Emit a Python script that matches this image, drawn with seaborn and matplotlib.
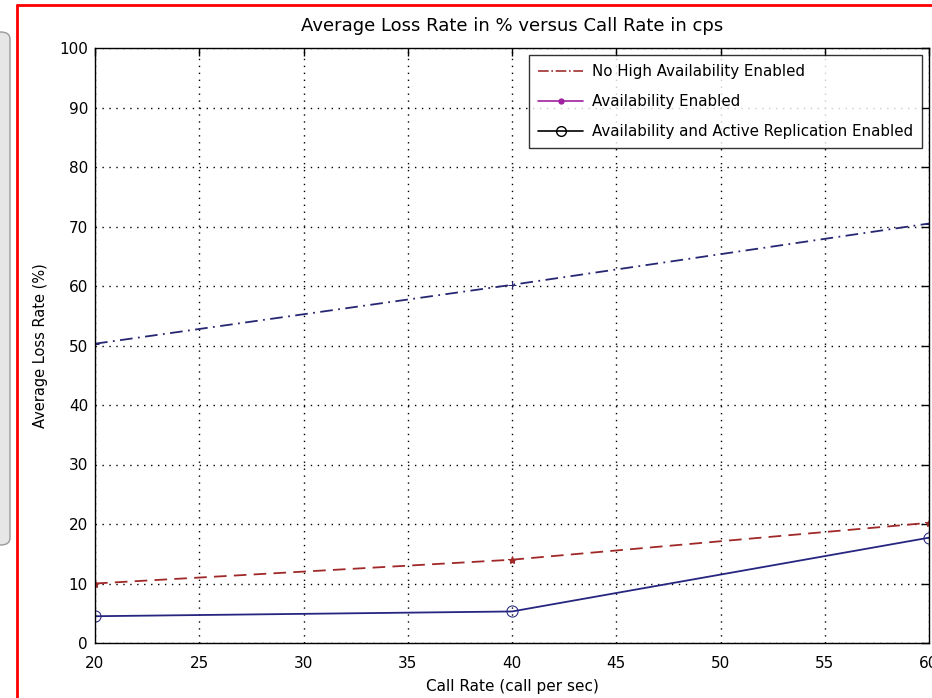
import numpy as np
import pandas as pd
import matplotlib
matplotlib.use("Agg")
import matplotlib.pyplot as plt
import seaborn as sns
from matplotlib.lines import Line2D
from matplotlib.patches import FancyBboxPatch

# ---- dati ----
call_rate = [20, 40, 60]
no_ha = [50.3, 60.2, 70.5]          # linea blu tratto-punto
ha_enabled = [10.0, 14.0, 20.2]     # linea rossa tratteggiata
ha_replication = [4.5, 5.3, 17.7]   # linea blu continua con cerchi

legend_labels = ["No High Availability Enabled",
                 "Availability Enabled",
                 "Availability and Active Replication Enabled"]

x_ticks = [20, 25, 30, 35, 40, 45, 50, 55, 60]
y_ticks = [0, 10, 20, 30, 40, 50, 60, 70, 80, 90, 100]

sns.set_style("white")
plt.rcParams['font.family'] = ['DejaVu Sans']
plt.rcParams['text.color'] = 'black'
plt.rcParams['axes.labelcolor'] = 'black'

fig = plt.figure(figsize=(9.32, 6.98), dpi=100)
ax = fig.add_axes([95/932, 55/698, 834/932, 595/698])

df = pd.DataFrame({"x": call_rate, "no_ha": no_ha, "ha": ha_enabled, "rep": ha_replication})

sns.lineplot(data=df, x="x", y="no_ha", ax=ax, color="#262673", linestyle=(0, (7, 3, 1, 3)),
             marker="+", markersize=6, markeredgecolor="#262673", linewidth=1.3)
sns.lineplot(data=df, x="x", y="ha", ax=ax, color="#a02828", linestyle=(0, (7, 4)),
             marker="*", markersize=6, markeredgecolor="#a02828", linewidth=1.3)
sns.lineplot(data=df, x="x", y="rep", ax=ax, color="#262680", linestyle="-",
             marker="o", markersize=8, markerfacecolor="none",
             markeredgecolor="#262680", linewidth=1.3)

ax.set_xlim(20, 60)
ax.set_ylim(0, 100)
ax.set_xticks(x_ticks)
ax.set_yticks(y_ticks)
ax.grid(True, color="black", linestyle=(0, (1, 4)), linewidth=1.0)
for s in ax.spines.values():
    s.set_color("black")
    s.set_linewidth(1.0)
ax.tick_params(axis="both", direction="in", top=True, right=True, length=6,
               width=1, labelsize=11, colors="black")
ax.tick_params(axis="x", pad=9)
ax.tick_params(axis="y", pad=5)

ax.set_title("Average Loss Rate in % versus Call Rate in cps", fontsize=13, pad=12)
ax.set_xlabel("Call Rate (call per sec)", fontsize=11, labelpad=6)
ax.set_ylabel("Average Loss Rate (%)", fontsize=10.5, labelpad=8)

# legenda come nell'originale (colori diversi dalle linee)
handles = [
    Line2D([0], [0], color="#a03030", linestyle="-.", linewidth=1.2),
    Line2D([0], [0], color="#a020a0", linestyle="-", marker=".", markersize=7, linewidth=1.2),
    Line2D([0], [0], color="black", linestyle="-", marker="o", markersize=7,
           markerfacecolor="none", linewidth=1.2),
]
leg = ax.legend(handles, legend_labels, loc="upper right", fontsize=10.8,
                frameon=True, fancybox=False, edgecolor="black",
                borderaxespad=0.45, handlelength=3.0, handletextpad=0.6,
                labelspacing=1.0, borderpad=0.6)
leg.get_frame().set_linewidth(1.0)

# cornice rossa e riquadro grigio a sinistra
fig.add_artist(Line2D([17/932, 17/932], [0, 1 - 5/698], color="red", linewidth=2))
fig.add_artist(Line2D([17/932, 1], [1 - 5/698, 1 - 5/698], color="red", linewidth=2))
fig.add_artist(FancyBboxPatch((-0.02, 1 - 545/698), 0.02 + 10/932, (545 - 32)/698,
                              boxstyle="round,pad=0,rounding_size=0.01",
                              facecolor="#e6e6e6", edgecolor="#9a9a9a", linewidth=1,
                              transform=fig.transFigure))

fig.savefig("out.png", dpi=100)
